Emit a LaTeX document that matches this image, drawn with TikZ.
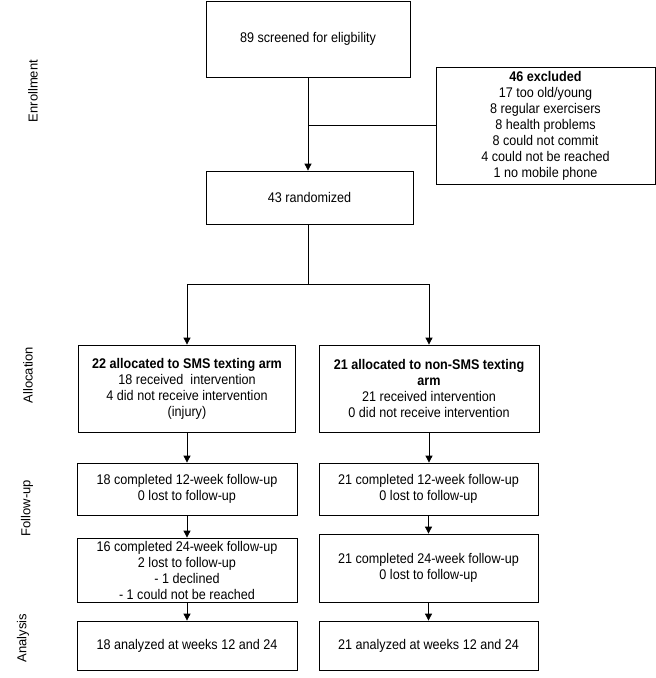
\documentclass[tikz,border=0pt]{standalone}
\usepackage{fontspec}
\setmainfont{Liberation Sans}
\newfontfamily\narrowfont{Liberation Sans}[FakeStretch=0.9]
\usetikzlibrary{arrows.meta}
\begin{document}
\begin{tikzpicture}[x=1pt,y=-1pt,
  box/.style={draw, line width=0.8pt, align=center, inner sep=0pt,
    font=\narrowfont\fontsize{14}{16}\selectfont, anchor=center},
  conn/.style={line width=0.8pt},
  arr/.style={line width=0.8pt, -{Triangle[length=7pt,width=7pt]}},
  side/.style={rotate=90, font=\fontsize{13}{15}\selectfont, anchor=center}]
\useasboundingbox (0,0) rectangle (656,678);
% boxes
\node[box, minimum width=204, minimum height=76] (screen) at (308,39) {89 screened for eligbility};
\node[box, minimum width=219, minimum height=117] (excl) at (545.5,125.5) {\textbf{46 excluded}\\17 too old/young\\8 regular exercisers\\8 health problems\\8 could not commit\\4 could not be reached\\1 no mobile phone};
\node[box, minimum width=207, minimum height=53] (rand) at (309.5,197.5) {43 randomized};
\node[box, minimum width=217, minimum height=87] (allocL) at (187,388.5) {\textbf{22 allocated to SMS texting arm}\\18 received\ \ intervention\\4 did not receive intervention\\(injury)};
\node[box, minimum width=220, minimum height=87] (allocR) at (429,388.5) {\textbf{21 allocated to non-SMS texting}\\\textbf{arm}\\21 received intervention\\0 did not receive intervention};
\node[box, minimum width=220, minimum height=52] (fuAL) at (187,489) {18 completed 12-week follow-up\\0 lost to follow-up};
\node[box, minimum width=219, minimum height=52] (fuAR) at (428.5,489) {21 completed 12-week follow-up\\0 lost to follow-up};
\node[box, minimum width=220, minimum height=64] (fuBL) at (187,570) {16 completed 24-week follow-up\\2 lost to follow-up\\- 1 declined\\- 1 could not be reached};
\node[box, minimum width=219, minimum height=68] (fuBR) at (428.5,568) {21 completed 24-week follow-up\\0 lost to follow-up};
\node[box, minimum width=220, minimum height=49] (anL) at (187,645.5) {18 analyzed at weeks 12 and 24};
\node[box, minimum width=219, minimum height=49] (anR) at (428.5,645.5) {21 analyzed at weeks 12 and 24};
% side labels
\node[side] (lenr) at (33,91) {Enrollment};
\node[side] (lall) at (28,375) {Allocation};
\node[side] (lfu) at (27,508) {Follow-up};
\node[side] (lan) at (23,638) {Analysis};
% connectors
\coordinate (split) at (308,284);
\draw[arr] (screen.south) -- (screen.south |- rand.north);
\draw[conn] (excl.west) -- (excl.west -| screen.south);
\draw[conn] (screen.south |- rand.south) -- (split);
\draw[conn] (split -| allocL.north) -- (split -| allocR.north);
\draw[arr] (split -| allocL.north) -- (allocL.north);
\draw[arr] (split -| allocR.north) -- (allocR.north);
\draw[arr] (allocL.south) -- (fuAL.north);
\draw[arr] (allocR.south) -- (allocR.south |- fuAR.north);
\draw[arr] (fuAL.south) -- (fuBL.north);
\draw[arr] (fuAR.south) -- (fuBR.north);
\draw[arr] (fuBL.south) -- (anL.north);
\draw[arr] (fuBR.south) -- (anR.north);
\end{tikzpicture}
\end{document}
